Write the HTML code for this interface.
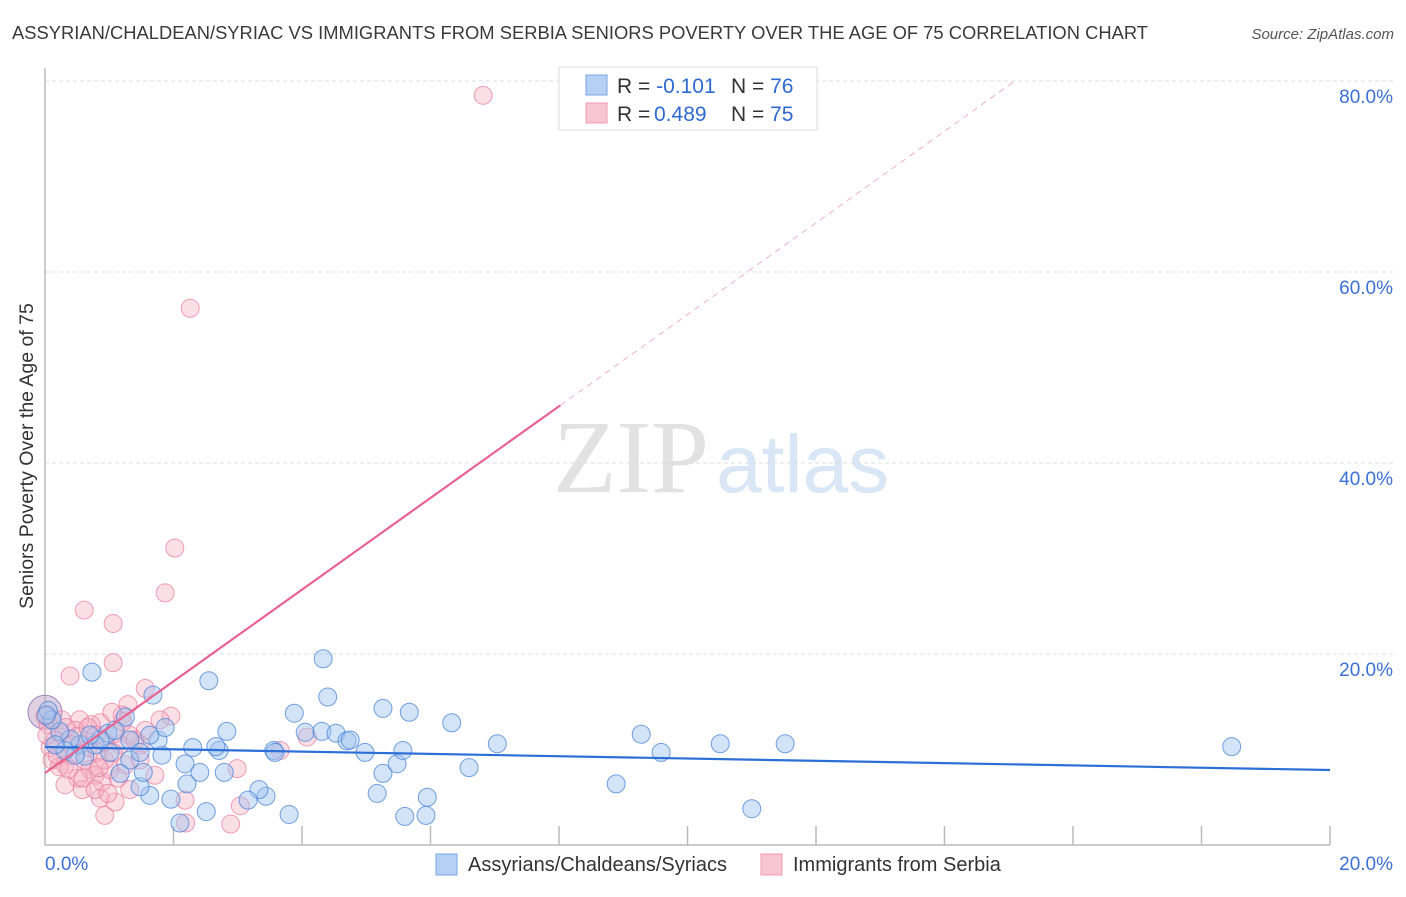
<!DOCTYPE html>
<html><head><meta charset="utf-8"><style>
body{margin:0;background:#fff;width:1406px;height:892px;overflow:hidden;font-family:"Liberation Sans",sans-serif}
</style></head><body>
<svg id="chart" width="1406" height="892" xmlns="http://www.w3.org/2000/svg" font-family="Liberation Sans, sans-serif">
<text x="12" y="39" font-size="18" fill="#3a3a3a" textLength="1136" lengthAdjust="spacingAndGlyphs">ASSYRIAN/CHALDEAN/SYRIAC VS IMMIGRANTS FROM SERBIA SENIORS POVERTY OVER THE AGE OF 75 CORRELATION CHART</text>
<text x="1394" y="39" font-size="15" fill="#555" font-style="italic" text-anchor="end">Source: ZipAtlas.com</text>
<text transform="translate(33,456) rotate(-90)" font-size="19.5" fill="#333" text-anchor="middle">Seniors Poverty Over the Age of 75</text>
<g>
<text x="553" y="492" font-family="Liberation Serif, serif" font-size="104" fill="#e2e2e2">ZIP</text>
<text x="716" y="492" font-size="82" fill="#d8e6f6">atlas</text>
</g>
<g id="grid"></g>
<g id="axes"></g>
<g id="marks"></g>
<g>
<rect x="559" y="67" width="258" height="63" fill="#fff" stroke="#ddd"/>
<rect x="586" y="75" width="21" height="20" fill="#b4d0f5" stroke="#7aa6e4"/>
<text x="617" y="93" font-size="21" fill="#333">R = <tspan fill="#2f6ad0">-0.101</tspan><tspan x="731">N = </tspan><tspan fill="#2f6ad0">76</tspan></text>
<rect x="586" y="103" width="21" height="20" fill="#f9c4d2" stroke="#ee9ab2"/>
<text x="617" y="121" font-size="21" fill="#333">R = <tspan x="654" fill="#2f6ad0">0.489</tspan><tspan x="731">N = </tspan><tspan fill="#2f6ad0">75</tspan></text>
</g>
<g>
<rect x="436" y="854" width="21" height="21" fill="#b4d0f5" stroke="#7aa6e4"/>
<text x="468" y="871" font-size="20" fill="#333">Assyrians/Chaldeans/Syriacs</text>
<rect x="761" y="854" width="21" height="21" fill="#f9c4d2" stroke="#ee9ab2"/>
<text x="793" y="871" font-size="20" fill="#333">Immigrants from Serbia</text>
</g>
</svg>
<script>
const yTicks=[20,40,60,80];
const yTickLabels=["20.0%","40.0%","60.0%","80.0%"];
const xTickLabels=["0.0%","20.0%"];
const blueX=[0.73,1.68,2.55,4.33,4.40,5.26,5.67,6.33,7.04,9.28,9.59,10.51,11.52,18.47,8.89,11.0,5.60,5.95,5.93,3.80,5.17,5.26,5.48,6.60,3.44,3.33,3.16,2.51,2.10,2.21,1.96,1.63,1.48,2.30,2.71,2.83,2.66,2.79,3.56,3.88,4.05,4.31,4.53,4.70,4.98,5.57,2.18,1.82,1.76,1.63,1.25,0.98,1.32,1.17,1.53,1.01,0.78,0.54,0.39,0.23,0.11,0.05,0.02,0.62,0.86,1.09,0.70,0.47,0.31,0.16,1.32,1.48,1.87,2.41,3.58,4.75];
const blueY=[18.1,15.7,17.2,19.5,15.5,14.3,13.9,12.8,10.6,11.6,9.7,10.6,10.6,10.3,6.4,3.8,3.0,5.0,3.1,3.2,5.4,7.5,8.5,8.1,5.1,5.8,4.7,3.5,2.3,6.4,4.8,5.2,6.1,10.2,9.9,11.9,10.3,7.6,9.9,13.8,11.8,11.9,11.7,10.9,9.7,9.9,8.5,9.4,11.0,11.5,13.4,11.7,8.9,7.5,7.6,9.7,10.5,10.5,11.1,11.9,13.1,14.1,13.6,9.3,11.0,12.0,11.5,9.4,9.9,10.5,11.0,9.7,12.3,7.6,9.7,11.0];
const pinkX=[6.82,2.26,2.02,1.87,0.61,1.06,1.06,0.39,1.56,1.96,1.29,1.20,1.04,0.86,0.72,0.54,0.47,0.23,0.16,0.08,0.05,0.03,0.11,0.31,0.39,0.62,0.70,0.78,0.89,0.86,0.93,1.09,1.25,1.01,1.48,1.71,1.32,1.56,1.79,2.18,2.19,2.89,3.04,2.99,3.66,4.08,0.22,0.42,0.67,0.82,1.17,1.40,0.51,0.58,0.78,0.93,0.26,0.33,0.51,0.67,0.79,0.93,1.06,0.19,0.37,0.31,0.59,1.14,1.32,0.84,1.09,1.21,1.48,0.98,0.0];
const pinkY=[78.5,56.2,31.1,26.4,24.6,23.2,19.1,17.7,16.4,13.5,14.7,13.6,13.9,12.8,12.6,13.1,12.0,11.7,11.0,10.2,12.6,11.5,8.9,8.4,9.4,8.9,7.9,7.3,6.6,4.9,3.1,4.5,8.4,7.9,10.5,7.3,11.5,12.0,13.1,4.7,2.3,2.2,4.1,8.0,9.9,11.3,8.2,10.5,10.2,9.7,10.5,11.0,7.0,5.8,5.8,8.9,13.1,12.3,11.4,12.3,11.5,10.8,9.7,9.4,7.9,6.3,7.0,7.0,5.8,8.1,11.7,12.9,8.9,5.4,13.5];
const blueTrend=[10.26,7.85];
const pinkTrend=[7.54,4.8];
const pinkSolidEnd=8.02, pinkDashEnd=15.1;

const X0=45,X1=1330,Y0=845,YS=9.55;
const sx=v=>X0+(X1-X0)*v/20;
const sy=v=>Y0-v*YS;
const NS="http://www.w3.org/2000/svg";
function mk(tag,parent,attrs){const e=document.createElementNS(NS,tag);for(const k in attrs)e.setAttribute(k,attrs[k]);parent.appendChild(e);return e;}
const grid=document.getElementById('grid'),axes=document.getElementById('axes'),marks=document.getElementById('marks');
yTicks.forEach((t,i)=>{
 const l=mk('line',grid,{x1:X0,x2:1393,y1:sy(t),y2:sy(t),stroke:'#dcdcdc','stroke-dasharray':'4,3'});
 
 
 const tx=mk('text',axes,{x:1393,y:sy(t)+22,'font-size':19,fill:'#3b70d4','text-anchor':'end'});
 tx.textContent=yTickLabels[i];
 
 
});
const la=mk('line',axes,{x1:X0,x2:X0,y1:68,y2:Y0,stroke:'#bbb','stroke-width':1.5});


const ba=mk('line',axes,{x1:X0,x2:X1,y1:Y0,y2:Y0,stroke:'#bbb','stroke-width':1.5});


for(let i=1;i<=10;i++){
 const t=mk('line',axes,{x1:sx(i*2),x2:sx(i*2),y1:826,y2:Y0,stroke:'#bbb','stroke-width':1.5});
 
 
}
const xl0=mk('text',axes,{x:45,y:870,'font-size':19,fill:'#3b70d4'});xl0.textContent=xTickLabels[0];


const xl1=mk('text',axes,{x:1393,y:870,'font-size':19,fill:'#3b70d4','text-anchor':'end'});xl1.textContent=xTickLabels[1];



const big=mk('circle',marks,{cx:sx(0),cy:sy(13.9),r:17,fill:'rgba(200,170,200,0.55)',stroke:'#9b86c0'});


pinkX.forEach((x,i)=>{
 const c=mk('circle',marks,{cx:sx(x),cy:sy(pinkY[i]),r:9,fill:'rgba(246,175,196,0.4)',stroke:'rgba(232,120,155,0.7)','stroke-width':1});
 
 
});
blueX.forEach((x,i)=>{
 const c=mk('circle',marks,{cx:sx(x),cy:sy(blueY[i]),r:9,fill:'rgba(160,196,240,0.45)',stroke:'rgba(70,130,215,0.75)','stroke-width':1});
 
 
});
const bt=mk('line',marks,{x1:sx(0),y1:sy(blueTrend[0]),x2:sx(20),y2:sy(blueTrend[1]),stroke:'#2c6fd6','stroke-width':2.2});


const pf=x=>pinkTrend[0]+pinkTrend[1]*x;
const pt=mk('line',marks,{x1:sx(0),y1:sy(pf(0)),x2:sx(pinkSolidEnd),y2:sy(pf(pinkSolidEnd)),stroke:'#e8638f','stroke-width':2.2});


const pd=mk('line',marks,{x1:sx(pinkSolidEnd),y1:sy(pf(pinkSolidEnd)),x2:sx(pinkDashEnd),y2:sy(pf(pinkDashEnd)),stroke:'#f0b0c4','stroke-width':1,'stroke-dasharray':'6,5'});


</script>
</body></html>
